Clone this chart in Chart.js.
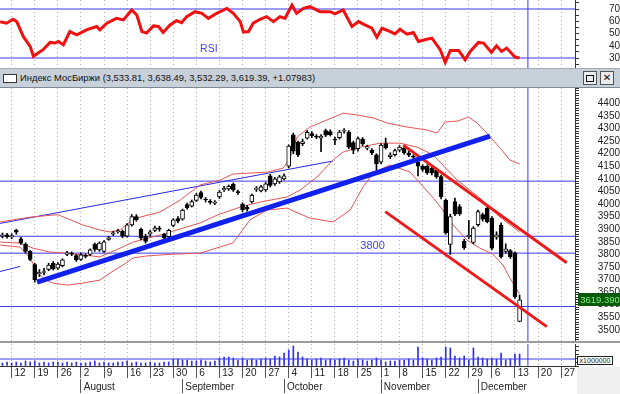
<!DOCTYPE html>
<html>
<head>
<meta charset="utf-8">
<script src="https://cdn.jsdelivr.net/npm/chart.js@4.4.1/dist/chart.umd.min.js"></script>
<style>
html, body { margin: 0; padding: 0; background: #fff; }
body { position: relative; width: 620px; height: 394px; overflow: hidden; font-family: "Liberation Sans", Arial, sans-serif; }
canvas, .pane { position: absolute; left: 0; }
#rsi { top: 0; }
#main { top: 88px; }
#vol { top: 344px; }
#bar { top: 68px; width: 620px; height: 18px; background: #c8d0da; border-top: 1px solid #a3acb6; border-bottom: 1px solid #7f8994; }
#bar .icon { position: absolute; left: 3px; top: 5px; width: 12px; height: 7px; border: 1px solid #333; background: #fff; }
#bar .title { position: absolute; left: 20px; top: 0; line-height: 18px; font-size: 9.4px; color: #111; white-space: nowrap; }
#bar .btn { position: absolute; top: 2px; width: 12px; height: 12px; border: 1px solid #555; background: #e9edf1; font: bold 10px "DejaVu Sans", sans-serif; line-height: 12px; text-align: center; color: #111; }
#bar .btn .sq { position: absolute; left: 2px; top: 3px; width: 6px; height: 5px; border: 1px solid #111; }
#sep { top: 341px; width: 620px; height: 2px; background: #9c9c9c; }
#unit { left: 577px; top: 356px; width: 34px; height: 7px; border: 1px solid #222; background: #fff; font-size: 7px; line-height: 7px; text-align: center; color: #222; }
#corner { left: 577px; top: 367px; width: 43px; height: 27px; background: #efefef; }
</style>
</head>
<body>
<canvas id="rsi" width="620" height="68"></canvas>
<div id="bar" class="pane">
  <div class="icon"></div>
  <div class="title">Индекс МосБиржи (3,533.81, 3,638.49, 3,532.29, 3,619.39, +1.07983)</div>
  <div class="btn" style="left:583px"><div class="sq"></div></div>
  <div class="btn" style="left:600px">✕</div>
</div>
<canvas id="main" width="620" height="253"></canvas>
<div id="sep" class="pane"></div>
<div id="corner" class="pane"></div>
<canvas id="vol" width="620" height="50"></canvas>
<div id="unit" class="pane">x1000000</div>
<script>
// trading days counted from Mon 12 Jul (= 0); Nov 4 holiday skipped
const firstDay = -2;
const opens = [3872, 3878, 3870, 3896, 3862, 3840, 3812, 3760, 3722, 3728, 3740, 3765, 3745, 3755, 3800, 3805, 3795, 3780, 3796, 3800,
  3840, 3818, 3812, 3860, 3880, 3890, 3892, 3872, 3917, 3950, 3900, 3872, 3880, 3895, 3904, 3880, 3870, 3915, 3942, 3940,
  3998, 3992, 4014, 4046, 4020, 4012, 4004, 4028, 4056, 4060, 4078, 4050, 4000, 3988, 4008, 4058, 4052, 4056, 4112, 4080,
  4088, 4100, 4150, 4275, 4245, 4240, 4262, 4280, 4270, 4262, 4292, 4288, 4258, 4264, 4290, 4286, 4244, 4220, 4258, 4222,
  4214, 4196, 4166, 4240, 4188, 4196, 4214, 4222, 4202, 4190, 4168, 4150, 4150, 4142, 4135, 4109, 4016, 3840, 4010, 3990,
  3852, 3870, 3848, 3918, 3958, 3984, 3944, 3868, 3916, 3812, 3815, 3806, 3533.81];
const highs = [3885, 3884, 3882, 3900, 3868, 3846, 3815, 3765, 3740, 3745, 3765, 3772, 3768, 3782, 3812, 3810, 3800, 3805, 3802, 3822,
  3845, 3850, 3855, 3872, 3892, 3900, 3897, 3922, 3958, 3958, 3905, 3880, 3896, 3912, 3912, 3884, 3900, 3942, 3950, 3980,
  4004, 4016, 4042, 4052, 4026, 4018, 4014, 4054, 4070, 4076, 4084, 4056, 4005, 3995, 4040, 4070, 4074, 4086, 4118, 4106,
  4114, 4120, 4235, 4282, 4250, 4258, 4292, 4288, 4276, 4276, 4298, 4295, 4266, 4292, 4300, 4292, 4250, 4266, 4264, 4234,
  4220, 4200, 4240, 4262, 4204, 4218, 4232, 4228, 4210, 4196, 4174, 4156, 4156, 4148, 4140, 4115, 4020, 3960, 4024, 3998,
  3860, 3935, 3910, 3976, 3964, 3990, 3950, 3890, 3925, 3842, 3820, 3810, 3638.49];
const lows = [3865, 3864, 3862, 3880, 3840, 3805, 3775, 3690, 3712, 3718, 3735, 3738, 3740, 3750, 3795, 3795, 3772, 3776, 3786, 3795,
  3812, 3812, 3808, 3856, 3875, 3884, 3866, 3868, 3912, 3932, 3858, 3845, 3872, 3890, 3892, 3860, 3866, 3910, 3925, 3936,
  3980, 3988, 4010, 4020, 4008, 4000, 3998, 4022, 4050, 4054, 4050, 4038, 3970, 3972, 4004, 4050, 4048, 4050, 4068, 4074,
  4082, 4096, 4144, 4200, 4188, 4232, 4258, 4264, 4260, 4208, 4268, 4270, 4236, 4258, 4282, 4220, 4200, 4210, 4232, 4215,
  4196, 4135, 4160, 4218, 4180, 4190, 4208, 4198, 4188, 4178, 4112, 4130, 4118, 4116, 4102, 4020, 3880, 3800, 3954, 3955,
  3820, 3862, 3842, 3912, 3932, 3925, 3818, 3860, 3785, 3805, 3784, 3625, 3532.29];
const closes = [3878, 3870, 3875, 3888, 3845, 3812, 3780, 3700, 3728, 3732, 3758, 3742, 3762, 3778, 3806, 3801, 3778, 3798, 3792, 3818,
  3820, 3845, 3850, 3866, 3886, 3894, 3872, 3917, 3950, 3938, 3864, 3852, 3890, 3906, 3900, 3865, 3896, 3937, 3932, 3976,
  3986, 4010, 4036, 4026, 4016, 4006, 4008, 4048, 4062, 4070, 4056, 4045, 3978, 3980, 4036, 4062, 4068, 4080, 4074, 4100,
  4108, 4112, 4230, 4210, 4195, 4248, 4285, 4272, 4266, 4270, 4274, 4276, 4254, 4286, 4294, 4226, 4214, 4260, 4240, 4228,
  4204, 4160, 4234, 4224, 4196, 4212, 4226, 4204, 4194, 4186, 4150, 4138, 4124, 4124, 4109, 4029, 3885, 3950, 3960, 3962,
  3826, 3876, 3905, 3970, 3940, 3930, 3825, 3878, 3790, 3822, 3790, 3632, 3619.39];
const volumes = [15, 20, 15, 20, 15, 25, 20, 25, 15, 20, 15, 20, 20, 15, 20, 15, 20, 15, 15, 20,
  25, 15, 20, 15, 15, 20, 20, 25, 15, 20, 15, 15, 20, 15, 15, 20, 20, 35, 35, 30,
  30, 25, 25, 30, 25, 20, 25, 40, 45, 45, 40, 30, 40, 30, 35, 30, 35, 40, 35, 50,
  45, 65, 80, 100, 70, 45, 35, 30, 35, 40, 30, 35, 30, 35, 40, 30, 25, 35, 30, 25,
  30, 40, 30, 20, 25, 25, 30, 30, 35, 30, 95, 40, 35, 30, 40, 45, 95, 90, 50, 40,
  50, 30, 90, 45, 40, 35, 40, 35, 65, 30, 35, 60, 60];
const volumeLevel = 35;

const rsiDays = [-2.5, -1.1, 0.3, 1.1, 2.5, 4, 4.7, 6.8, 8.3, 9.4, 10.1, 11.2, 12.6, 14.1, 16.2, 18.4, 19.1, 20.6, 22.7, 24.2,
  26, 27.1, 28.2, 29.2, 30.7, 31.8, 32.8, 34.3, 35.7, 36.8, 37.9, 39.7, 41.2, 42.6, 44.4, 46.6, 48, 49.5, 50.2, 51.3,
  52.3, 53.8, 55.2, 56.7, 58.1, 59.2, 60.7, 61.7, 63.2, 64.6, 66.8, 69, 70, 71.8, 73.7, 75.1, 76.5, 78, 79.1, 80.2,
  82, 83, 84.1, 85.6, 87, 88.1, 89.5, 91, 92.8, 93.9, 95, 96.8, 98.2, 99.3, 101.1, 102.2, 103.9, 105, 106.1, 107.2, 109, 110];
const rsiValues = [59.7, 58.4, 61.6, 59.7, 47.6, 39.5, 31.4, 36.8, 42.7, 42.2, 43.5, 40.8, 51.6, 48.9, 53, 55.7, 53, 58.4, 62.4, 61.1,
  69.2, 65.1, 51.6, 50.3, 56.2, 55.7, 50.8, 57, 60.5, 58.9, 63.8, 67.8, 66.5, 62.4, 66.5, 70.5, 66.5, 59.7, 51.1, 51.6,
  58.4, 61.6, 63.8, 59.7, 63.8, 62.4, 73.2, 66.5, 70.5, 71.9, 67.8, 67.8, 66, 69.2, 55.7, 59.7, 57, 54.3, 47, 54.3,
  51.6, 49.7, 53.5, 49.5, 50.8, 43.5, 44.9, 46.2, 36.8, 26.5, 36.2, 36.2, 28.6, 35.4, 42.7, 42.2, 34.6, 40, 35.4, 38.1, 30.8, 30];
const rsiLevels = [70, 30];

// bollinger bands
const upperDays = [-2.5, 4, 10, 15.4, 19.1, 21.3, 23.5, 25.6, 27.8, 32.1, 36.5, 40.8, 45.1, 47.9, 55.3, 58.8, 60.3, 61.8, 64.6, 68.3,
  71.8, 74.8, 78.3, 81.3, 85.6, 90, 92.1, 93.9, 96.7, 98.9, 100.8, 102.9, 105.8, 107.9, 110];
const upperBand = [3929, 3948, 3958, 3917, 3897, 3889, 3897, 3929, 3948, 3968, 4016, 4076, 4095, 4119, 4127, 4143, 4183, 4266, 4306, 4334,
  4361, 4354, 4342, 4322, 4306, 4294, 4282, 4326, 4330, 4346, 4322, 4282, 4222, 4175, 4159];
const midDays = [-2.5, 1.8, 4.6, 8.3, 12, 15.4, 19.1, 23.5, 26.3, 32.1, 36.5, 40.8, 44.5, 49.5, 53.8, 59.6, 62.5, 66.1, 69.6, 71.8,
  75.5, 79.8, 84.1, 87.8, 91.3, 96.5, 101.4, 105.8, 110];
const midBand = [3849, 3845, 3825, 3809, 3805, 3798, 3790, 3825, 3849, 3877, 3901, 3925, 3956, 3988, 4008, 4028, 4056, 4107, 4175, 4207,
  4226, 4242, 4242, 4226, 4195, 4095, 4024, 3948, 3889];
const lowerDays = [-2.5, 1.8, 4, 5.5, 6.8, 8.9, 12, 15.4, 19.1, 21.3, 24.1, 26.3, 29.3, 34.9, 40.8, 47.9, 51.6, 55.3, 59.6, 64.6,
  69.6, 73.3, 76.1, 78.3, 81.9, 86.3, 91.3, 93.4, 95.6, 98.6, 101.4, 104.2, 106.4, 107.9, 110];
const lowerBand = [3837, 3829, 3786, 3730, 3706, 3686, 3678, 3686, 3698, 3726, 3758, 3786, 3794, 3801, 3805, 3845, 3937, 3976, 3984, 3944,
  3929, 3976, 4068, 4123, 4155, 4127, 4024, 3976, 3917, 3857, 3825, 3801, 3758, 3706, 3643];

// drawn lines: [day, price]
const thickTrend = [[5.5, 3690], [103.6, 4270]];
const thinTrend = [[-2.53, 3923], [69.6, 4171]];
const shortTrend = [[-2.53, 3732], [1.8, 3752]];
const channelTop = [[84.8, 4234], [120.2, 3767]];
const channelBottom = [[80.9, 3970], [115.9, 3513]];
const priceLevels = [4091, 3872, 3805, 3593];
const cursorDay = 111.8;

const weekTickDays = [0, 5, 10, 15, 20, 25, 30, 35, 40, 45, 50, 55, 60, 65, 70, 75, 80, 84, 89, 94, 99, 104, 109, 114, 119];
const weekTickLabels = ['12', '19', '26', '2', '9', '16', '23', '30', '6', '13', '20', '27', '4', '11', '18', '25', '1', '8', '15', '22', '29', '6', '13', '20', '27'];
const monthTickDays = [15, 37, 59, 80, 101];
const monthTickLabels = ['August', 'September', 'October', 'November', 'December'];

const dayMin = -2.53, dayMax = 122;
const days = opens.map((_, i) => firstDay + i);

Chart.defaults.font.family = '"Liberation Sans", Arial, sans-serif';
Chart.defaults.font.size = 10;
Chart.defaults.color = '#222';
Chart.defaults.animation = false;

const fixW = w => s => { s.width = w; s.paddingTop = 0; s.paddingBottom = 0; s.paddingLeft = 0; s.paddingRight = 0; };
const fixH = h => s => { s.height = h; s.paddingTop = 0; s.paddingBottom = 0; s.paddingLeft = 0; s.paddingRight = 0; };

function line(points, color, width, order) {
  return { type: 'line', data: points.map(p => ({ x: p[0], y: p[1] })), borderColor: color, borderWidth: width, pointRadius: 0, order: order };
}
function series(xs, ys, color, width, order) {
  return line(xs.map((d, i) => [d, ys[i]]), color, width, order);
}
function gridAxis() {
  return {
    type: 'linear', min: dayMin, max: dayMax, offset: false,
    afterBuildTicks: s => { s.ticks = weekTickDays.map(v => ({ value: v })); },
    ticks: { display: false },
    grid: { color: '#b0b0b0', drawTicks: false, offset: false },
    border: { display: false, dash: [1, 3] },
    afterFit: fixH(0)
  };
}
function valueAxis(min, max, tickValues, labelFn, pad) {
  return {
    position: 'right', min: min, max: max,
    afterBuildTicks: s => { s.ticks = tickValues.map(v => ({ value: v })); },
    ticks: { autoSkip: false, crossAlign: 'far', padding: pad, callback: labelFn, color: '#222', font: { size: 10 } },
    grid: { drawOnChartArea: false, tickLength: 4, tickColor: '#333' },
    border: { color: '#333' },
    afterFit: fixW(45)
  };
}

const marks = {
  id: 'marks',
  afterDatasetsDraw(chart, args, opts) {
    const ctx = chart.ctx, x = chart.scales.x, y = chart.scales.y;
    (opts.texts || []).forEach(t => {
      ctx.save();
      ctx.font = t.font;
      ctx.fillStyle = t.color;
      ctx.textBaseline = 'middle';
      ctx.fillText(t.text, x.getPixelForValue(t.day), y.getPixelForValue(t.value));
      ctx.restore();
    });
  },
  afterDraw(chart, args, opts) {
    if (!opts.tag) return;
    const ctx = chart.ctx, y = chart.scales.y, left = chart.chartArea.right + 3;
    const py = Math.round(y.getPixelForValue(opts.tag));
    ctx.save();
    ctx.fillStyle = '#0b5a0b';
    ctx.fillRect(left, py - 7, chart.width - left, 13);
    ctx.fillStyle = '#7af27a';
    ctx.font = '9.5px "Liberation Sans", Arial';
    ctx.textBaseline = 'middle';
    ctx.textAlign = 'center';
    ctx.fillText(opts.tag.toFixed(3), (left + chart.width) / 2 + 1, py);
    ctx.restore();
  }
};

const common = {
  responsive: false,
  events: [],
  layout: { padding: 0 },
  plugins: { legend: { display: false }, tooltip: { enabled: false } }
};

// RSI panel
const rsiMin = 21.84, rsiMax = 77.35;
const rsiTicks = [25, 30, 35, 40, 45, 50, 55, 60, 65, 70, 75];
new Chart(document.getElementById('rsi'), {
  type: 'line',
  data: {
    datasets: [
      series(rsiDays, rsiValues, '#f01010', 3, 0),
      ...rsiLevels.map(v => line([[dayMin, v], [dayMax, v]], '#3b3bf2', 1, 2)),
      line([[cursorDay, rsiMin], [cursorDay, rsiMax]], '#3b3bf2', 1, 2)
    ]
  },
  options: Object.assign({}, common, {
    plugins: Object.assign({}, common.plugins, {
      marks: { texts: [{ text: 'RSI', day: 40.8, value: 37.3, font: '10.5px "Liberation Sans", Arial', color: '#4545e6' }] }
    }),
    scales: {
      x: gridAxis(),
      y: valueAxis(rsiMin, rsiMax, rsiTicks, v => (v % 10 === 0 && v >= 30 && v <= 70) ? String(v) : '', 23)
    }
  }),
  plugins: [marks]
});

// price panel
const priceMin = 3456, priceMax = 4461;
const priceTicks = [];
for (let v = 3460; v <= 4460; v += 10) priceTicks.push(v);
new Chart(document.getElementById('main'), {
  type: 'bar',
  data: {
    datasets: [
      line(thickTrend, '#1020ee', 5, 0),
      line(channelTop, '#ee1a1a', 3, 0),
      line(channelBottom, '#ee1a1a', 3, 0),
      {
        type: 'bar', grouped: false, order: 1,
        data: days.map((d, i) => ({ x: d, y: [opens[i], closes[i]] })),
        backgroundColor: days.map((d, i) => closes[i] >= opens[i] ? '#ffffff' : '#000000'),
        borderColor: '#000', borderWidth: 1, borderSkipped: false, barThickness: 4, minBarLength: 1
      },
      {
        type: 'bar', grouped: false, order: 2,
        data: days.map((d, i) => ({ x: d, y: [lows[i], highs[i]] })),
        backgroundColor: '#000', barThickness: 1
      },
      series(upperDays, upperBand, '#e65454', 1, 3),
      series(midDays, midBand, '#e65454', 1, 3),
      series(lowerDays, lowerBand, '#e65454', 1, 3),
      line(thinTrend, '#2828e8', 1, 3),
      line(shortTrend, '#2828e8', 1, 3),
      ...priceLevels.map(v => line([[dayMin, v], [dayMax, v]], '#3b3bf2', 1, 4)),
      line([[cursorDay, priceMin], [cursorDay, priceMax]], '#3b3bf2', 1, 4)
    ]
  },
  options: Object.assign({}, common, {
    plugins: Object.assign({}, common.plugins, {
      marks: {
        texts: [{ text: '3800', day: 75.5, value: 3833, font: '11px "Liberation Sans", Arial', color: '#4545e6' }],
        tag: closes[closes.length - 1]
      }
    }),
    scales: {
      x: gridAxis(),
      y: valueAxis(priceMin, priceMax, priceTicks, v => (v % 50 === 0 && v >= 3500 && v <= 4400) ? String(v) : '', 11)
    }
  }),
  plugins: [marks]
});

// volume panel with the date axis
const volMax = 110;
new Chart(document.getElementById('vol'), {
  type: 'bar',
  data: {
    datasets: [
      line([[dayMin, volumeLevel], [dayMax, volumeLevel]], '#3b3bf2', 1, 1),
      line([[cursorDay, 0], [cursorDay, volMax]], '#3b3bf2', 1, 1),
      {
        type: 'bar', grouped: false, order: 2,
        data: days.map((d, i) => ({ x: d, y: volumes[i] })),
        backgroundColor: '#2f2fe6', barThickness: 1
      }
    ]
  },
  options: Object.assign({}, common, {
    scales: {
      x: {
        type: 'linear', position: 'bottom', min: dayMin, max: dayMax, offset: false, weight: 0,
        afterBuildTicks: s => { s.ticks = weekTickDays.map(v => ({ value: v })); },
        ticks: { autoSkip: false, maxRotation: 0, minRotation: 0, align: 'start', padding: -11, color: '#222', font: { size: 10 },
          callback: (v, i) => ' ' + weekTickLabels[i] },
        grid: { color: '#b0b0b0', tickColor: '#555', tickLength: 12, tickBorderDash: [], offset: false },
        border: { display: true, color: '#333', dash: [1, 3] },
        afterFit: fixH(13)
      },
      x2: {
        type: 'linear', position: 'bottom', min: dayMin, max: dayMax, offset: false, weight: 1,
        afterBuildTicks: s => { s.ticks = monthTickDays.map(v => ({ value: v })); },
        ticks: { autoSkip: false, maxRotation: 0, minRotation: 0, align: 'start', padding: -12, color: '#222', font: { size: 10 },
          callback: (v, i) => ' ' + monthTickLabels[i] },
        grid: { drawOnChartArea: false, tickColor: '#555', tickLength: 14, offset: false },
        border: { display: false },
        afterFit: fixH(15)
      },
      y: valueAxis(0, volMax, [0, 20, 40, 60, 80, 100], () => '', 4)
    }
  })
});
</script>
</body>
</html>
